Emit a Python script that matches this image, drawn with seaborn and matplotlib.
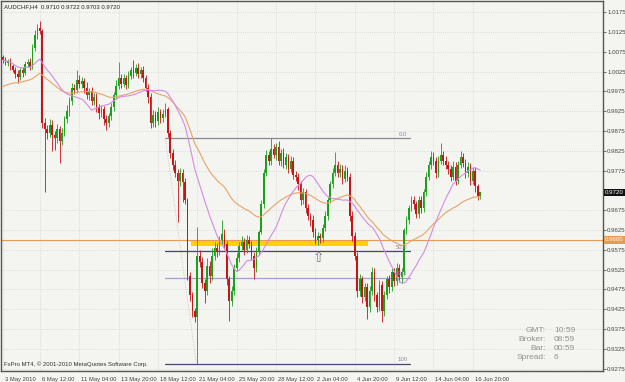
import numpy as np
import pandas as pd
import matplotlib
matplotlib.use("Agg")
import matplotlib.pyplot as plt
import matplotlib.transforms as mtransforms
import seaborn as sns

# ---------------- data (AUDCHF H4) ----------------
first_open = 1.0062
closes = [
    1.0055, 1.0048, 1.0052, 1.0040, 1.0030, 1.0020, 1.0012, 1.0028, 1.0022, 1.0045,
    1.0050, 1.0038, 1.0085, 1.0118, 1.0135, 1.0128, 0.9895, 0.9880, 0.9870, 0.9890,
    0.9865, 0.9858, 0.9880, 0.9850, 0.9870, 0.9905, 0.9925, 0.9950, 0.9985, 0.9978,
    1.0005, 0.9995, 1.0002, 0.9985, 0.9965, 0.9975, 0.9950, 0.9962, 0.9935, 0.9920,
    0.9930, 0.9905, 0.9895, 0.9912, 0.9935, 0.9965, 0.9990, 1.0010, 0.9995, 1.0008,
    0.9992, 1.0015, 1.0028, 1.0022, 1.0035, 1.0018, 1.0030, 1.0010, 0.9985, 0.9960,
    0.9895, 0.9915, 0.9900, 0.9922, 0.9908, 0.9918, 0.9930, 0.9870, 0.9820, 0.9790,
    0.9770, 0.9750, 0.9768, 0.9745, 0.9700, 0.9510, 0.9460, 0.9420, 0.9405, 0.9560,
    0.9545, 0.9490, 0.9470, 0.9535, 0.9510, 0.9560, 0.9580, 0.9570, 0.9600, 0.9615,
    0.9590, 0.9500, 0.9445, 0.9470, 0.9530, 0.9555, 0.9585, 0.9595, 0.9575, 0.9600,
    0.9590, 0.9560, 0.9530, 0.9570, 0.9620, 0.9690, 0.9770, 0.9815, 0.9800, 0.9830,
    0.9815, 0.9835, 0.9800, 0.9820, 0.9790, 0.9810, 0.9780, 0.9800, 0.9765, 0.9760,
    0.9740, 0.9700, 0.9720, 0.9680, 0.9660, 0.9650, 0.9620, 0.9600, 0.9610, 0.9605,
    0.9630, 0.9660, 0.9700, 0.9740, 0.9770, 0.9790, 0.9770, 0.9780, 0.9755, 0.9775,
    0.9760, 0.9660, 0.9610, 0.9560, 0.9470, 0.9500, 0.9455, 0.9480, 0.9430, 0.9470,
    0.9520, 0.9460, 0.9430, 0.9485, 0.9420, 0.9460, 0.9500, 0.9480, 0.9520, 0.9495,
    0.9530, 0.9505, 0.9520, 0.9625, 0.9650, 0.9680, 0.9700, 0.9690, 0.9665, 0.9700,
    0.9680, 0.9720, 0.9760, 0.9790, 0.9810, 0.9800, 0.9770, 0.9800, 0.9815, 0.9800,
    0.9790, 0.9780, 0.9760, 0.9785, 0.9750, 0.9790, 0.9810, 0.9795, 0.9770, 0.9785,
    0.9750, 0.9775, 0.9735, 0.9710, 0.9720,
]
# wick lengths in pips above max(open, close) and below min(open, close)
wick_up = [
    6, 8, 5, 7, 5, 6, 8, 6, 9, 7,
    8, 10, 9, 12, 10, 17, 5, 12, 10, 15,
    12, 10, 14, 9, 12, 8, 15, 10, 12, 8,
    25, 12, 10, 8, 14, 9, 12, 8, 10, 9,
    12, 8, 10, 9, 12, 8, 14, 40, 10, 12,
    8, 12, 10, 27, 9, 12, 8, 10, 7, 9,
    12, 14, 10, 15, 9, 12, 15, 6, 8, 10,
    12, 9, 14, 10, 12, 6, 10, 8, 9, 72,
    15, 12, 10, 18, 12, 20, 14, 12, 10, 35,
    12, 8, 10, 14, 9, 12, 10, 14, 10, 12,
    10, 8, 9, 12, 6, 10, 8, 12, 10, 27,
    12, 10, 14, 9, 12, 10, 8, 12, 10, 8,
    10, 8, 12, 9, 10, 8, 12, 9, 10, 8,
    9, 12, 8, 10, 12, 32, 10, 12, 9, 14,
    10, 8, 12, 9, 10, 14, 9, 12, 10, 14,
    12, 10, 9, 14, 10, 12, 9, 12, 10, 9,
    12, 10, 9, 6, 10, 8, 12, 10, 9, 12,
    10, 9, 12, 10, 14, 12, 10, 12, 30, 10,
    12, 9, 10, 14, 12, 10, 14, 9, 10, 12,
    9, 10, 8, 6, 2,
]
wick_dn = [
    8, 6, 9, 10, 7, 12, 15, 8, 10, 6,
    8, 9, 6, 8, 10, 9, 12, 160, 14, 10,
    40, 30, 12, 55, 10, 8, 9, 12, 8, 10,
    8, 12, 10, 14, 9, 12, 10, 8, 12, 14,
    10, 15, 18, 10, 8, 9, 10, 8, 12, 9,
    10, 8, 9, 12, 8, 10, 9, 12, 10, 14,
    12, 10, 14, 9, 12, 10, 8, 10, 12, 14,
    12, 105, 14, 50, 10, 12, 15, 14, 12, 119,
    14, 12, 30, 10, 20, 12, 10, 14, 9, 10,
    12, 15, 50, 12, 10, 9, 12, 10, 14, 9,
    10, 12, 30, 10, 8, 6, 9, 8, 12, 10,
    9, 12, 10, 14, 9, 12, 10, 8, 12, 10,
    14, 12, 9, 12, 10, 14, 12, 10, 12, 14,
    10, 8, 9, 8, 10, 9, 12, 10, 14, 9,
    10, 12, 14, 12, 15, 12, 14, 10, 30, 12,
    10, 14, 12, 10, 27, 12, 10, 14, 9, 12,
    10, 12, 14, 8, 9, 10, 8, 12, 10, 9,
    12, 10, 8, 9, 10, 12, 14, 10, 9, 12,
    10, 14, 12, 9, 12, 10, 8, 12, 14, 10,
    12, 9, 14, 10, 7,
]
ma_slow_seed = 0.9985          # orange EMA value at the left edge
x_tick_bars = [0, 15, 31, 47, 63, 79, 95, 111, 127, 143, 159, 175, 191]
x_tick_labels = ["3 May 2010", "6 May 12:00", "11 May 04:00", "13 May 20:00",
                 "18 May 12:00", "21 May 04:00", "25 May 20:00", "28 May 12:00",
                 "2 Jun 04:00", "4 Jun 20:00", "9 Jun 12:00", "14 Jun 04:00",
                 "16 Jun 20:00"]
# price scale labels (the 0.9725 label is hidden under the current-price box)
y_tick_labels = ["1.0175", "1.0125", "1.0075", "1.0025", "0.9975", "0.9925",
                 "0.9875", "0.9825", "0.9775", "0.9675", "0.9625",
                 "0.9575", "0.9525", "0.9475", "0.9425", "0.9375", "0.9325",
                 "0.9275"]
current_price = 0.9720
level_line = 0.9600
zone_bars = [76.4, 148.2]
zone_prices = [0.9585, 0.9598]
fib_bars = [66.0, 78.6, 165.4]
fib_high, fib_low = 0.98567, 0.92864
fib_levels = [0.0, 50.0, 61.8, 100.0]
fib_names = ["0.0", "50.0", "61.8", "100"]
arrow_bar, arrow_price = 128.3, 0.9553
header = "AUDCHF,H4  0.9710 0.9722 0.9703 0.9720"
footer = "FxPro MT4, \u00a9 2001-2010 MetaQuotes Software Corp."
info_keys = ["GMT:", "Broker:", "Bar:", "Spread:"]
info_vals = ["10:59", "08:59", "00:59", "6"]

# ---------------- frame ----------------
df = pd.DataFrame({"close": closes})
df["bar"] = np.arange(len(df))
df["open"] = [first_open] + closes[:-1]
df["high"] = np.maximum(df["open"], df["close"]) + np.array(wick_up) / 10000
df["low"] = np.minimum(df["open"], df["close"]) - np.array(wick_dn) / 10000
df["ma_fast"] = df["close"].rolling(21, min_periods=1).mean()
df["ma_slow"] = (pd.Series([ma_slow_seed] + closes)
                 .ewm(span=50, adjust=False).mean().iloc[1:].values)

sns.set_theme(style="white")
plt.rcParams["font.family"] = ["Liberation Sans", "DejaVu Sans"]

BG = "#F4F4F0"
fig = plt.figure(figsize=(6.25, 3.82), dpi=100, facecolor=BG)
ax = fig.add_axes([1 / 625, 11 / 382, 602 / 625, 370 / 382], facecolor=BG)

ax.set_xlim(-0.8, 243.9)
ax.set_ylim(0.92687, 1.02036)

# grid
ax.set_yticks([float(t) for t in y_tick_labels])
ax.set_yticklabels(y_tick_labels)
ax.set_xticks(x_tick_bars)
ax.set_xticklabels(x_tick_labels)
ax.grid(True, linestyle=(0, (1, 2)), color="#C8C8C8", linewidth=0.5)
ax.set_axisbelow(True)

# zone rectangle (behind candles)
ax.fill_between(zone_bars, zone_prices[0], zone_prices[1], color="#FFD200",
                linewidth=0, zorder=1)

# horizontal level line
ax.axhline(level_line, color="#E59B55", linewidth=0.8, zorder=1.5)

# fibonacci
rng = fib_high - fib_low
fib_colors = ["#8A8A96", "#4E4670", "#A69FD2", "#4E4670"]
for lvl, name, col in zip(fib_levels, fib_names, fib_colors):
    p = fib_high - rng * lvl / 100
    ax.plot([fib_bars[0], fib_bars[2]], [p, p], color=col, linewidth=0.9, zorder=1.6)
    ax.text(fib_bars[2] - 1.0, p + 0.0004, name, fontsize=4.3, color="#8A8AA8",
            ha="right", va="bottom", zorder=5)
ax.plot([fib_bars[0], fib_bars[1]], [fib_high, fib_low], color="#C8B4B4",
        linewidth=0.6, linestyle=(0, (1, 2)), zorder=1.6)

# candles
up = df["close"] >= df["open"]
col = np.where(up, "#1AA01A", "#C81414")
ax.vlines(df["bar"], df["low"], df["high"], colors=col, linewidth=0.6, zorder=3)
body_h = np.maximum((df["close"] - df["open"]).abs(), 0.00006)
ax.bar(df["bar"], body_h, bottom=np.minimum(df["open"], df["close"]),
       width=0.68, color=col, linewidth=0, zorder=3)

# moving averages
sns.lineplot(data=df, x="bar", y="ma_slow", ax=ax, color="#E8A468",
             linewidth=0.8, zorder=4, legend=False)
sns.lineplot(data=df, x="bar", y="ma_fast", ax=ax, color="#D68BE2",
             linewidth=0.8, zorder=4, legend=False)
ax.set_xlabel("")
ax.set_ylabel("")

# arrow marker
ax.text(arrow_bar, arrow_price, "\u21e7", fontsize=10, ha="center", va="center",
        color="#7A7A7A", zorder=6, family="DejaVu Sans")

# axes styling
for s in ax.spines.values():
    s.set_color("#555555")
    s.set_linewidth(1.0)
ax.yaxis.tick_right()
ax.tick_params(axis="y", direction="out", length=2, width=0.6, colors="#555555",
               labelsize=4.4, labelcolor="#444444", pad=1)
ax.tick_params(axis="x", direction="out", length=3, width=0.6, colors="#555555",
               labelsize=4.2, labelcolor="#444444", pad=1.5)
shift = mtransforms.ScaledTranslation(2 / 100, 0, fig.dpi_scale_trans)
for lab in ax.get_xticklabels():
    lab.set_ha("left")
    lab.set_transform(lab.get_transform() + shift)

# price boxes
btr = mtransforms.blended_transform_factory(ax.transAxes, ax.transData)
ax.text(1.003, current_price, f"{current_price:.4f}", transform=btr, fontsize=4.4,
        color="white", ha="left", va="center", zorder=7, clip_on=False,
        bbox=dict(boxstyle="square,pad=0.2", fc="#111111", ec="none"))
ax.text(1.003, level_line, f"{level_line:.4f}", transform=btr, fontsize=4.4,
        color="white", ha="left", va="center", zorder=7, clip_on=False,
        bbox=dict(boxstyle="square,pad=0.2", fc="#E59B55", ec="none"))

# texts
fig.text(4 / 625, 1 - 7 / 382, header, fontsize=4.3, color="#222222",
         ha="left", va="center")
fig.text(4 / 625, 1 - 364 / 382, footer, fontsize=4.3, color="#333333",
         ha="left", va="center")
for k, (key, val) in enumerate(zip(info_keys, info_vals)):
    yy = 1 - (331 + 8.7 * k) / 382
    fig.text(546 / 625, yy, key, fontsize=6.0, color="#909090", ha="right", va="center")
    fig.text(554 / 625, yy, val, fontsize=6.0, color="#909090", ha="left", va="center")

fig.savefig("out.png", dpi=100, facecolor=BG)
